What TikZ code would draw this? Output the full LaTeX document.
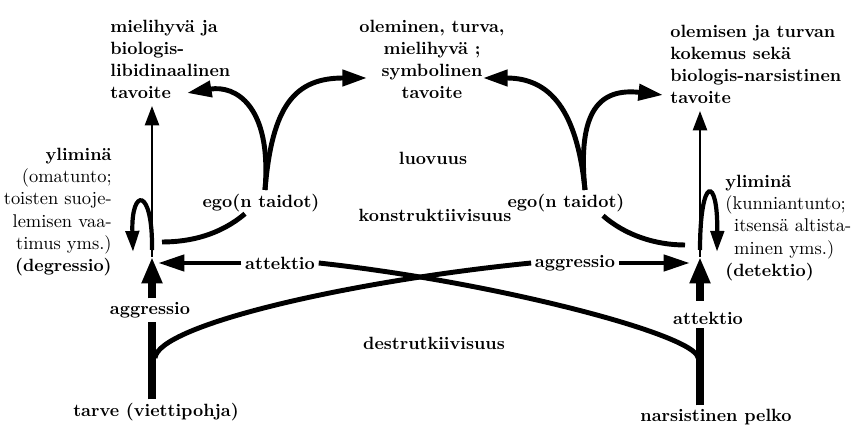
\documentclass[tikz,border=0pt]{standalone}
\usepackage{tikz}
\usetikzlibrary{arrows.meta}

\newcommand{\heavy}[1]{{\fontsize{10.1}{12.6}\selectfont\bfseries #1}}

\begin{document}
\begin{tikzpicture}[
        x=0.02cm, y=-0.02cm,
        every node/.style={font=\fontsize{10.1}{12.5}\selectfont\bfseries, inner sep=2pt},
        goal/.style={inner sep=0pt, align=left},
        side/.style={font=\fontsize{10.5}{12.6}\selectfont, inner sep=0pt},
        thin/.style={line width=1.3pt, -{Triangle[length=11pt,width=8pt]}},
        bar/.style={line width=4.8pt},
        bararrow/.style={line width=4.8pt, -{Triangle[length=15pt,width=11pt]}},
        curve/.style={line width=2.8pt},
        curvearrow/.style={line width=2.8pt, -{Triangle[length=14pt,width=9pt]}},
        hzarrow/.style={line width=2.8pt, -{Triangle[length=15pt,width=9pt]}},
        looparrow/.style={line width=2.4pt, -{Triangle[length=12pt,width=7.5pt]}}
    ]

    \useasboundingbox (0,0) rectangle (854,431);

    % Goals at the top
    \node[goal, anchor=north west] (libido) at (110,20) {mielihyvä ja\\biologis-\\libidinaalinen\\tavoite};
    \node[goal, align=center, anchor=north] (symbol) at (432,20) {oleminen, turva,\\mielihyvä ;\\symbolinen\\tavoite};
    \node[goal, anchor=north west] (narc) at (670,25) {olemisen ja turvan\\kokemus sekä\\biologis-narsistinen\\tavoite};

    % Middle labels
    \node (creat) at (433,158) {luovuus};
    \node (constr) at (435,215) {konstruktiivisuus};
    \node (destr) at (434,343) {destrutkiivisuus};

    % Ego labels
    \node (egoL) at (261,203) {ego(n taidot)};
    \node (egoR) at (566,203) {ego(n taidot)};

    % Sources and drive labels
    \node (need) at (156,412) {tarve (viettipohja)};
    \node (fear) at (716,417) {narsistinen pelko};
    \node (aggrL) at (150,310) {aggressio};
    \node (attR) at (708,318) {attektio};
    \node (attL) at (280,263) {attektio};
    \node (aggrR) at (575,263) {aggressio};

    % Superego blocks
    \node[side, align=right, anchor=north east] (superL) at (112,148)
        {\heavy{yliminä}\\(omatunto;\\toisten suoje-\\lemisen vaa-\\timus yms.)\\\heavy{(degressio)}};
    \node[side, align=left, anchor=north west] (superR) at (725,175)
        {\heavy{yliminä}\\(kunniantunto;\\\hspace*{5pt}itsensä altista-\\\hspace*{5pt}minen yms.)\\\heavy{(detektio)}};

    % Meeting points and free ends
    \coordinate (meetL) at (152,257);
    \coordinate (meetR) at (700,257);
    \coordinate (inL) at (158,263);
    \coordinate (inR) at (690,263);
    \coordinate (forkL) at (265,190);
    \coordinate (forkR) at (585,190);
    \coordinate (toLibido) at (187,93);
    \coordinate (toSymbolL) at (367,78);
    \coordinate (toSymbolR) at (483,78);
    \coordinate (toNarc) at (663,95);
    \coordinate (rootL) at (155,358);
    \coordinate (rootR) at (698,358);

    % Left column
    \draw[bar] (need.north -| meetL) -- (aggrL.south -| meetL);
    \draw[bararrow] (aggrL.north -| meetL) -- (meetL);
    \draw[thin] (meetL) -- ([shift={(0,7)}]libido.south -| meetL);
    \draw[looparrow] ([shift={(0,-7)}]meetL) .. controls ([shift={(1,-70)}]meetL)
        and ([shift={(-21,-70)}]meetL) .. ([shift={(-19,-5)}]meetL);

    % Right column
    \draw[bar] (fear.north -| meetR) -- (attR.south -| meetR);
    \draw[bararrow, shorten <=4pt] (attR.north -| meetR) -- (meetR);
    \draw[thin] (meetR) -- ([shift={(0,7)}]narc.south -| meetR);
    \draw[looparrow] ([shift={(0,-7)}]meetR) .. controls ([shift={(0,-82)}]meetR)
        and ([shift={(18,-82)}]meetR) .. ([shift={(17,-5)}]meetR);

    % Ego forks
    \draw[curvearrow] (forkL) .. controls (272,105) and (235,85) .. (toLibido);
    \draw[curvearrow] (forkL) .. controls (272,105) and (295,78) .. (toSymbolL);
    \draw[curvearrow] (forkR) .. controls (577,110) and (550,78) .. (toSymbolR);
    \draw[curvearrow] (forkR) .. controls (577,110) and (600,88) .. (toNarc);

    % Ego down to the superego loops
    \draw[curve] ([shift={(-16,-2)}]egoL.south) .. controls (220,235) and (190,242) .. ([shift={(10,-15)}]meetL);
    \draw[curve] ([shift={(37,0)}]egoR.south) .. controls (625,235) and (655,245) .. ([shift={(-15,-12)}]meetR);

    % Crossing drives
    \draw[curve] (rootL) .. controls (158,325) and (350,281) .. (aggrR.west);
    \draw[curve] (rootR) .. controls (697,335) and (495,282) .. (attL.east);
    \draw[hzarrow] (attL) -- (inL);
    \draw[hzarrow] (aggrR) -- (inR);

\end{tikzpicture}
\end{document}
